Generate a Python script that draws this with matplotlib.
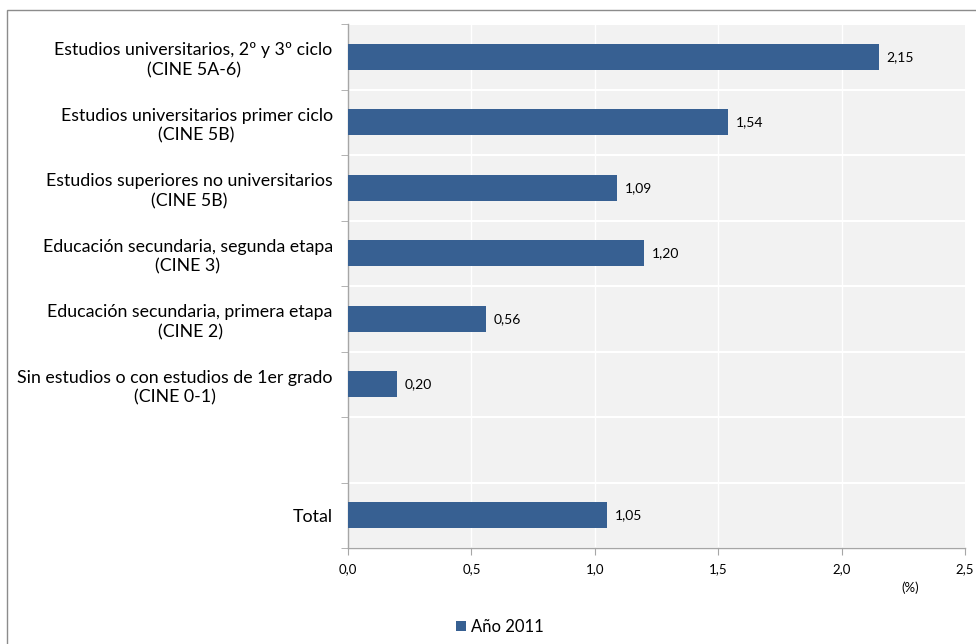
import matplotlib
matplotlib.use("Agg")
import matplotlib.pyplot as plt
from matplotlib.patches import Rectangle, Patch
import numpy as np

categories = [
    "Estudios universitarios, 2º y 3º ciclo\n(CINE 5A-6)",
    "Estudios universitarios primer ciclo\n(CINE 5B)",
    "Estudios superiores no universitarios\n(CINE 5B)",
    "Educación secundaria, segunda etapa\n(CINE 3)",
    "Educación secundaria, primera etapa\n(CINE 2)",
    "Sin estudios o con estudios de 1er grado\n(CINE 0-1)",
    "",
    "Total",
]
values = [2.15, 1.54, 1.09, 1.20, 0.56, 0.20, None, 1.05]
xticks = [0.0, 0.5, 1.0, 1.5, 2.0, 2.5]
series_name = "Año 2011"

plt.rcParams['font.family'] = ['Lato', 'DejaVu Sans']
bar_color = '#376092'
grid_gray = '#f2f2f2'
spine_gray = '#a6a6a6'

fig = plt.figure(figsize=(9.76, 6.44), dpi=100)
# figure frame
fig.patches.append(Rectangle((7/976, -0.01), 1.0, 1 - 10/644 + 0.01, transform=fig.transFigure,
                             fill=False, edgecolor='#8c8c8c', linewidth=1.0))

ax = fig.add_axes([348/976, 1 - 548/644, (965-348)/976, (548-24)/644])
ax.set_facecolor(grid_gray)

ypos = np.arange(len(categories))
for y, v in zip(ypos, values):
    if v is None:
        continue
    ax.barh(y, v, height=0.4, color=bar_color, zorder=3)
    ax.text(v + 0.03, y, f"{v:.2f}".replace('.', ','), va='center', ha='left',
            fontsize=10, color='#000000', zorder=4)

ax.set_xlim(0, 2.5)
ax.set_ylim(len(categories) - 0.5, -0.5)
ax.set_xticks(xticks)
ax.set_xticklabels([f"{t:.1f}".replace('.', ',') for t in xticks], fontsize=9.5)
ax.set_yticks(ypos)
ax.set_yticklabels(categories, fontsize=12.8, multialignment='center', linespacing=1.3)
ax.tick_params(axis='y', length=0, pad=11)
ax.set_yticks(np.arange(len(categories) + 1) - 0.5, minor=True)
ax.tick_params(axis='y', which='minor', length=5, color=spine_gray, direction='out')
ax.tick_params(axis='x', length=5, color=spine_gray, direction='out', pad=6)

for x in xticks[1:-1]:
    ax.axvline(x, color='white', linewidth=1.0, zorder=1)
for b in np.arange(len(categories) + 1) - 0.5:
    ax.axhline(b, color='white', linewidth=1.5, zorder=1)

for s in ['top', 'right']:
    ax.spines[s].set_visible(False)
for s in ['left', 'bottom']:
    ax.spines[s].set_color(spine_gray)
    ax.spines[s].set_linewidth(1.0)

fig.text(910/976, 1 - 588/644, "(%)", ha='center', va='center', fontsize=9.5)

leg = fig.legend(handles=[Patch(facecolor=bar_color, label=series_name)],
                 loc='center', bbox_to_anchor=(500/976, 1 - 627/644), frameon=False,
                 fontsize=12, handlelength=0.6, handleheight=0.6, handletextpad=0.3)

fig.savefig("out.png", dpi=100)
